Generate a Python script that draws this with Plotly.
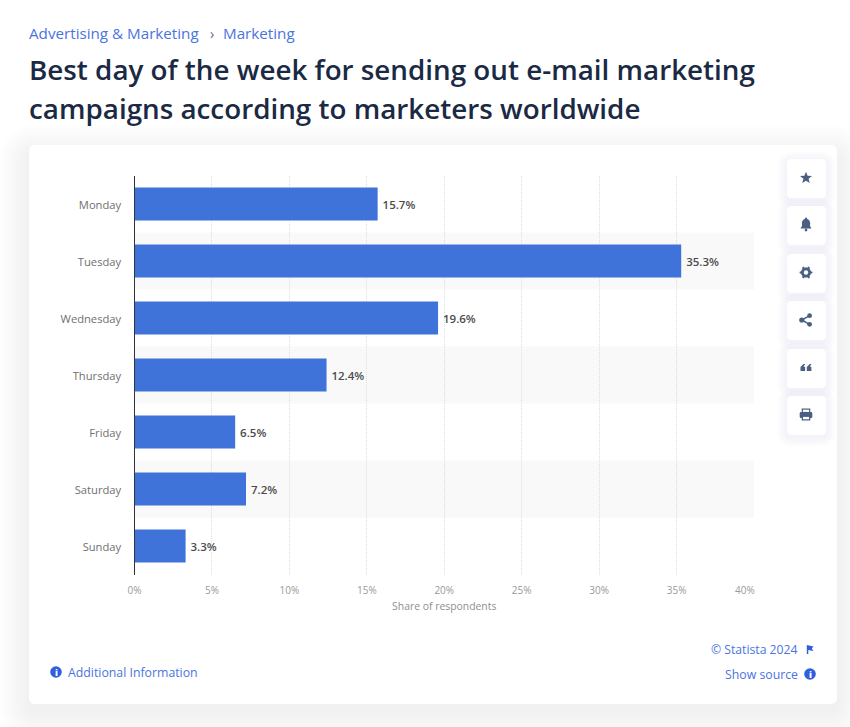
import math
import plotly.graph_objects as go

# ---- data ----
days = ["Monday", "Tuesday", "Wednesday", "Thursday", "Friday", "Saturday", "Sunday"]
shares = [15.7, 35.3, 19.6, 12.4, 6.5, 7.2, 3.3]
x_ticks = [0, 5, 10, 15, 20, 25, 30, 35, 40]
x_labels = ["0%", "5%", "10%", "15%", "20%", "25%", "30%", "35%", ""]
last_label = "40%"
striped_days = ["Tuesday", "Thursday", "Saturday"]
breadcrumb = ["Advertising & Marketing", "›", "Marketing"]
title_lines = ["Best day of the week for sending out e-mail marketing",
               "campaigns according to marketers worldwide"]

W, H = 850, 727
FONT = "Open Sans"
LINK = "#4a74e0"
ICON = "#4a5f82"
BAR = "#4073d9"


def px(x):
    return x / W


def py(y):
    return 1 - y / H


def path(points, close=True):
    s = "M " + " L ".join(f"{px(x):.5f},{py(y):.5f}" for x, y in points)
    return s + (" Z" if close else "")


def round_rect(x0, y0, x1, y1, r):
    pts = []
    for cx, cy, a0 in [(x1 - r, y0 + r, -90), (x1 - r, y1 - r, 0), (x0 + r, y1 - r, 90), (x0 + r, y0 + r, 180)]:
        for i in range(7):
            a = math.radians(a0 + i * 15)
            pts.append((cx + r * math.cos(a), cy + r * math.sin(a)))
    return path(pts)


def fill_shape(d, color):
    return dict(type="path", path=d, xref="paper", yref="paper", fillcolor=color,
                line=dict(width=0), layer="below")


def disc(cx, cy, r, color):
    return dict(type="circle", xref="paper", yref="paper", x0=px(cx - r), x1=px(cx + r),
                y0=py(cy + r), y1=py(cy - r), fillcolor=color, line=dict(width=0), layer="above")


def icon(d, color=ICON):
    s = fill_shape(d, color)
    s["layer"] = "above"
    return s


def label(x, y, text, size, color, anchor="left", weight=400):
    shift = {"left": -2, "right": 2, "center": 0}[anchor]
    return dict(x=px(x), y=py(y), xref="paper", yref="paper", text=text, showarrow=False, xshift=shift,
                xanchor=anchor, yanchor="middle", font=dict(family=FONT, size=size, color=color, weight=weight))


shapes = []
# soft shadow and card
for i in range(14, 0, -1):
    e = i * 2.2
    shapes.append(fill_shape(round_rect(29 - e, 145 - e + 10, 837 + e, 704 + e + 8, 6 + e), "rgba(40,60,100,0.0035)"))
shapes.append(fill_shape(round_rect(29, 145, 837, 704, 6), "#ffffff"))

# alternating bands
for d in striped_days:
    i = days.index(d)
    shapes.append(dict(type="rect", xref="x", yref="y", x0=0, x1=40.1, y0=i - 0.5, y1=i + 0.5,
                       fillcolor="#f9f9f9", line=dict(width=0), layer="below"))

# side buttons
button_tops = [159, 206, 254, 301, 349, 396]
for t in button_tops:
    for k in range(6, 0, -1):
        e = k * 1.6
        shapes.append(fill_shape(round_rect(787 - e, t - e + 2, 826 + e, t + 39 + e + 2, 4 + e), "rgba(40,60,100,0.007)"))
    shapes.append(fill_shape(round_rect(787, t, 826, t + 39, 4), "#ffffff"))

# star
cx, cy = 806, 178
shapes.append(icon(path([(cx + (6.3 if j % 2 == 0 else 2.7) * math.sin(j * math.pi / 5),
                          cy - (6.3 if j % 2 == 0 else 2.7) * math.cos(j * math.pi / 5)) for j in range(10)])))
# bell
cx, cy = 806, 225
bell = [(cx - 5.5, cy + 3.5), (cx - 4, cy + 1), (cx - 4, cy - 2)]
bell += [(cx + 4.2 * math.cos(math.radians(a)), cy - 2 + 4.2 * math.sin(math.radians(a))) for a in range(180, 361, 30)]
bell += [(cx + 4, cy + 1), (cx + 5.5, cy + 3.5)]
shapes.append(icon(path(bell)))
shapes.append(disc(cx, cy + 5, 1.4, ICON))
shapes.append(disc(cx, cy - 6.3, 1.1, ICON))
# gear
cx, cy = 806, 272.5
gear = []
for j in range(48):
    a = 2 * math.pi * j / 48
    r = 6.4 if (j % 8) in (0, 1, 7) else 5
    gear.append((cx + r * math.cos(a), cy + r * math.sin(a)))
shapes.append(icon(path(gear)))
shapes.append(disc(cx, cy, 2.2, "#ffffff"))
# share
cx, cy = 806, 320
shapes.append(disc(cx + 3.6, cy - 4.3, 2.4, ICON))
shapes.append(disc(cx + 3.6, cy + 4.3, 2.4, ICON))
shapes.append(disc(cx - 4.2, cy, 2.6, ICON))
shapes.append(dict(type="path", xref="paper", yref="paper", layer="above", line=dict(color=ICON, width=1.5),
                   path=path([(cx + 3.6, cy - 4.3), (cx - 4.2, cy), (cx + 3.6, cy + 4.3)], close=False)))
# quotes
cx, cy = 806, 367.5
for dx in (-5.5, 0.8):
    shapes.append(icon(path([(cx + dx, cy + 3.5), (cx + dx, cy - 0.5), (cx + dx + 3, cy - 3.5),
                             (cx + dx + 4.6, cy - 3.5), (cx + dx + 3, cy - 0.8), (cx + dx + 4.6, cy - 0.8),
                             (cx + dx + 4.6, cy + 3.5)])))
# printer
cx, cy = 806, 414.5
shapes.append(icon(round_rect(cx - 6.3, cy - 2.6, cx + 6.3, cy + 3.6, 1.5)))
shapes.append(icon(path([(cx - 4.3, cy - 2.6), (cx - 4.3, cy - 6), (cx + 4.3, cy - 6), (cx + 4.3, cy - 2.6)])))
shapes.append(icon(path([(cx - 4.3, cy + 1.2), (cx + 4.3, cy + 1.2), (cx + 4.3, cy + 6), (cx - 4.3, cy + 6)])))
shapes.append(icon(path([(cx - 3, cy + 2.4), (cx + 3, cy + 2.4), (cx + 3, cy + 4.8), (cx - 3, cy + 4.8)]), "#ffffff"))
shapes.append(icon(path([(cx - 3, cy - 4.8), (cx + 3, cy - 4.8), (cx + 3, cy - 2.6), (cx - 3, cy - 2.6)]), "#ffffff"))

# info discs and flag
shapes.append(disc(56, 672, 5.8, "#2f5fdc"))
shapes.append(disc(810, 674, 5.8, "#2f5fdc"))
shapes.append(icon(path([(806.8, 645), (813.5, 646.5), (811.8, 648.6), (813.5, 651), (808.3, 650), (808.3, 654), (806.8, 654)]), "#2f5fdc"))

annotations = [
    label(29, 33.5, breadcrumb[0], 15.2, LINK),
    label(210, 33.5, breadcrumb[1], 14, "#5a6b85"),
    label(222.5, 33.5, breadcrumb[2], 15.2, LINK),
    label(29, 68.5, title_lines[0], 27.8, "#1b2a44", weight=600),
    label(29, 107.5, title_lines[1], 27.8, "#1b2a44", weight=600),
    label(755, 590, last_label, 10, "#999999", "right"),
    label(68, 672, "Additional Information", 12.3, LINK),
    label(798, 649, "© Statista 2024", 12.2, LINK, "right"),
    label(798, 674, "Show source", 12.3, LINK, "right"),
    label(56, 672, "i", 9, "#ffffff", "center", 800),
    label(810, 674, "i", 9, "#ffffff", "center", 800),
]

fig = go.Figure(go.Bar(
    y=days, x=shares, orientation="h", width=33 / 57,
    marker=dict(color=BAR, line=dict(width=0)),
    text=[f"\u2009{v}%" for v in shares], textposition="outside", cliponaxis=False,
    textfont=dict(family=FONT, size=11.5, color="#4c4c4c", weight=600),
    hoverinfo="skip",
))

fig.update_layout(
    width=W, height=H, autosize=False,
    margin=dict(l=0, r=0, t=0, b=0, pad=0),
    paper_bgcolor="#ffffff", plot_bgcolor="rgba(0,0,0,0)",
    showlegend=False, shapes=shapes, annotations=annotations,
    font=dict(family=FONT),
    xaxis=dict(domain=[px(134.5), px(754)], range=[0, 40], tickmode="array", tickvals=x_ticks,
               ticktext=x_labels, ticks="outside", ticklen=6, tickcolor="rgba(0,0,0,0)",
               tickfont=dict(family=FONT, size=10, color="#999999"),
               showgrid=True, gridcolor="#dedede", gridwidth=1, griddash="1px,1px", zeroline=False,
               showline=False, automargin=False,
               title=dict(text="Share of respondents", standoff=7,
                          font=dict(family=FONT, size=10.4, color="#8f8f8f"))),
    yaxis=dict(domain=[py(574.6), py(175.6)], categoryorder="array", categoryarray=days, range=[6.5, -0.5],
               ticks="outside", ticklen=10, tickcolor="rgba(0,0,0,0)", ticklabelshift=-1,
               tickfont=dict(family=FONT, size=11.2, color="#707070"),
               showgrid=False, zeroline=False, showline=True, linecolor="#333333", linewidth=1.2,
               automargin=False),
)

fig.write_html("out.html", config=dict(displayModeBar=False),
               post_script="document.body.style.margin='0';document.body.style.overflow='hidden';")
